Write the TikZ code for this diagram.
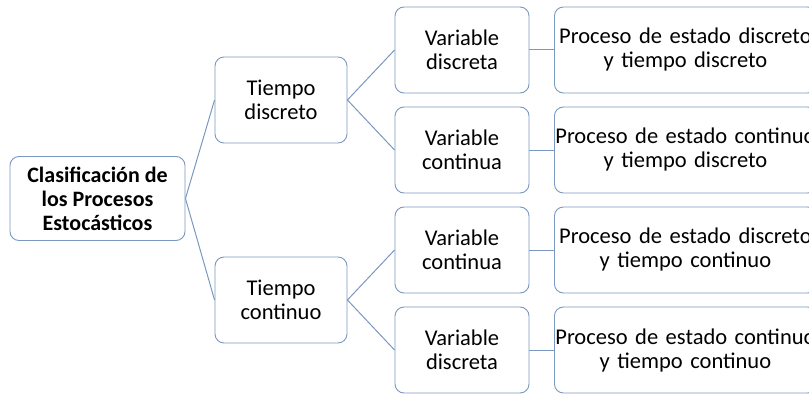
\documentclass[tikz,border=0pt]{standalone}
\usepackage{fontspec}
\setmainfont{Carlito}
\begin{document}
\begin{tikzpicture}[x=1pt,y=-1pt,
  edgecol/.style={draw={rgb,255:red,122;green,152;blue,192}},
  box/.style={edgecol, fill=white, line width=0.9pt, rounded corners=9pt,
    align=center, inner sep=0pt, font=\fontsize{22.5}{24}\selectfont},
  link/.style={edgecol, line width=1pt}]
\useasboundingbox (0,0) rectangle (809,396);
\clip (0,0) rectangle (809,396);
% root of the hierarchy
\node[box, minimum width=175, minimum height=84, font=\bfseries\fontsize{22}{24}\selectfont] (root) at (97.5,198.5) {Clasificación de\\los Procesos\\Estocásticos};
% time type
\node[box, minimum width=132, minimum height=86] (td) at (281,100) {Tiempo\\discreto};
\node[box, minimum width=132, minimum height=86] (tc) at (281,300) {Tiempo\\continuo};
% variable type
\node[box, minimum width=134, minimum height=86] (v1) at (462,50) {Variable\\discreta};
\node[box, minimum width=134, minimum height=86] (v2) at (462,150) {Variable\\continua};
\node[box, minimum width=134, minimum height=86] (v3) at (462,250) {Variable\\continua};
\node[box, minimum width=134, minimum height=86] (v4) at (462,350) {Variable\\discreta};
% resulting processes
\node[box, minimum width=262, minimum height=86, text width=262, anchor=west] (p1) at (554,50) {Proceso de estado discreto\\y tiempo discreto};
\node[box, minimum width=262, minimum height=86, text width=262, anchor=west] (p2) at (554,150) {Proceso de estado continuo\\y tiempo discreto};
\node[box, minimum width=262, minimum height=86, text width=262, anchor=west] (p3) at (554,250) {Proceso de estado discreto\\y tiempo continuo};
\node[box, minimum width=262, minimum height=86, text width=262, anchor=west] (p4) at (554,350) {Proceso de estado continuo\\y tiempo continuo};
% connectors
\draw[link] (root.east) -- (td.west);
\draw[link] (root.east) -- (tc.west);
\draw[link] (td.east) -- (v1.west);
\draw[link] (td.east) -- (v2.west);
\draw[link] (tc.east) -- (v3.west);
\draw[link] (tc.east) -- (v4.west);
\draw[link] (v1.east) -- (p1.west);
\draw[link] (v2.east) -- (p2.west);
\draw[link] (v3.east) -- (p3.west);
\draw[link] (v4.east) -- (p4.west);
\end{tikzpicture}
\end{document}
